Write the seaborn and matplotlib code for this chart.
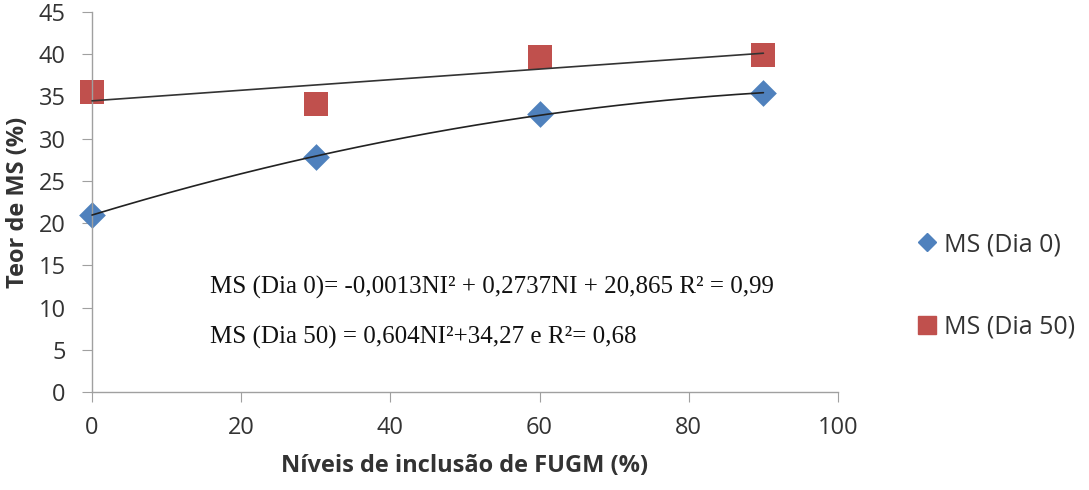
import numpy as np
import pandas as pd
import matplotlib
matplotlib.use("Agg")
import matplotlib.pyplot as plt
from matplotlib.lines import Line2D
import seaborn as sns

niveis = [0, 30, 60, 90]
ms_dia0 = [21.0, 27.8, 32.9, 35.4]
ms_dia50 = [35.5, 34.1, 39.7, 39.9]
series_names = ["MS (Dia 0)", "MS (Dia 50)"]
eq_dia0 = "MS (Dia 0)= -0,0013NI² + 0,2737NI + 20,865 R² = 0,99"
eq_dia50 = "MS (Dia 50) = 0,604NI²+34,27 e R²= 0,68"

sns.set_style("white")
plt.rcParams['font.family'] = ['Open Sans', 'DejaVu Sans']

W, H = 1089, 490
fig = plt.figure(figsize=(W / 100, H / 100), dpi=100)
ax = fig.add_axes([92 / W, 1 - 392 / H, (838 - 92) / W, (392 - 12) / H])

blue, red = "#4F81BD", "#C0504D"

# trend lines fitted from the data
xs = np.linspace(0, 90, 200)
p0 = np.polyfit(niveis, ms_dia0, 2)
p1 = np.polyfit(niveis, ms_dia50, 1)

sns.scatterplot(x=niveis, y=ms_dia0, marker="D", color=blue, s=185, linewidth=0,
                ax=ax, zorder=2, clip_on=False)
sns.scatterplot(x=niveis, y=ms_dia50, marker="s", color=red, s=320, linewidth=0,
                ax=ax, zorder=2, clip_on=False)

sns.lineplot(x=xs, y=np.polyval(p0, xs), ax=ax, color="#222222", lw=1.2, zorder=3)
sns.lineplot(x=xs, y=np.polyval(p1, xs), ax=ax, color="#333333", lw=1.2, zorder=3)

ax.set_xlim(0, 100)
ax.set_ylim(0, 45)
ax.set_xticks(range(0, 101, 20))
ax.set_yticks(range(0, 46, 5))
for sp in ["top", "right"]:
    ax.spines[sp].set_visible(False)
for sp in ["left", "bottom"]:
    ax.spines[sp].set_color("#A0A0A0")
    ax.spines[sp].set_linewidth(1.0)
ax.tick_params(axis="both", which="both", length=7, color="#A0A0A0", labelsize=17,
               labelcolor="#333333", direction="out", bottom=True, left=True)
ax.tick_params(axis="y", pad=12)
ax.tick_params(axis="x", pad=10)
ax.set_xlabel("Níveis de inclusão de FUGM (%)", fontsize=17, fontweight="bold",
              color="#333333", labelpad=10)
ax.set_ylabel("Teor de MS (%)", fontsize=17, fontweight="bold", color="#333333", labelpad=6)
for line in ax.lines:
    line.set_clip_on(False)

ax.text(15.8, (392 - 294) / (380 / 45), eq_dia0, fontsize=18,
        family="Liberation Serif", color="#111111")
ax.text(15.8, (392 - 344) / (380 / 45), eq_dia50, fontsize=18,
        family="Liberation Serif", color="#111111")

handles = [
    Line2D([], [], ls="none", marker="D", ms=9.5, color=blue, mec=blue),
    Line2D([], [], ls="none", marker="s", ms=13.5, color=red, mec=red),
]
fig.legend(handles, series_names, loc="center left",
           bbox_to_anchor=(917 / W, 1 - 286 / H),
           frameon=False, fontsize=18, labelspacing=2.3, handletextpad=0.3,
           handlelength=0.8, borderpad=0, borderaxespad=0, labelcolor="#333333")

fig.savefig("out.png", dpi=100)
